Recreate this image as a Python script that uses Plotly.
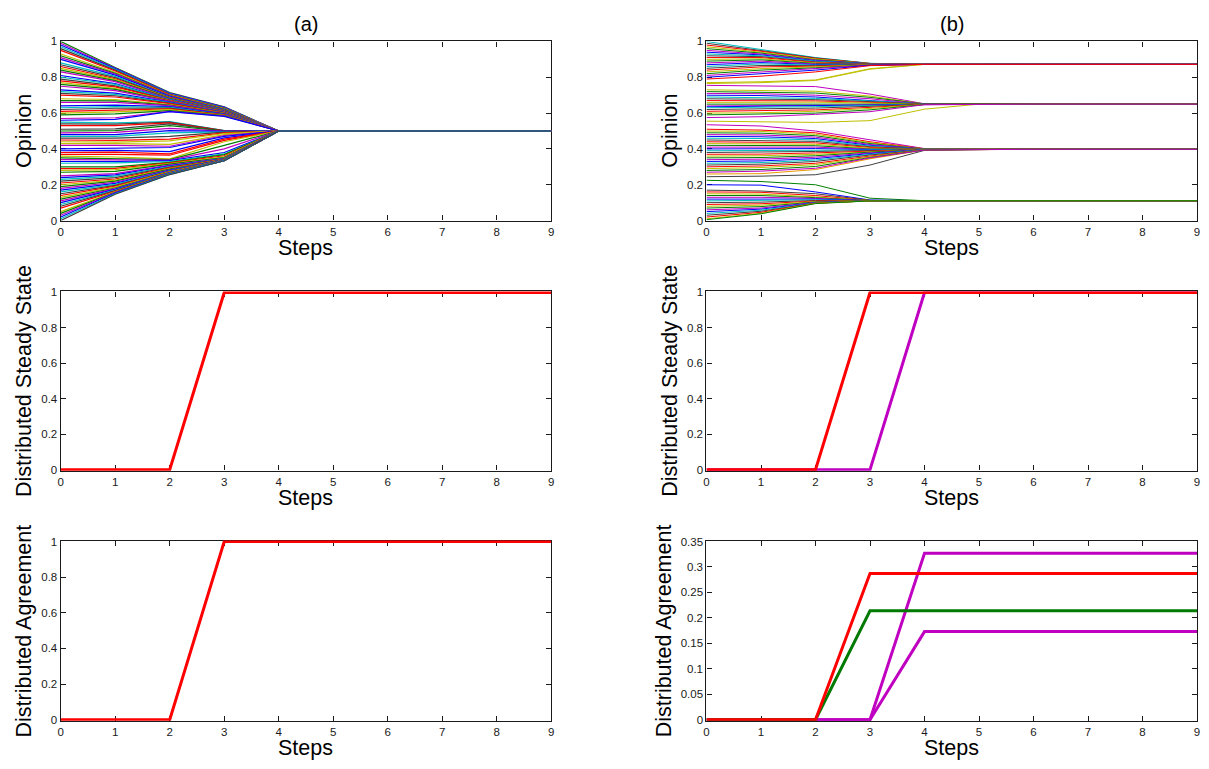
import plotly.graph_objects as go

W, H = 1209, 769
steps = list(range(10))

# MATLAB default line colour order
colors = ["#0000FF", "#008000", "#FF0000", "#00BFBF", "#BF00BF", "#BFBF00", "#404040"]
ORANGE = "#E89A00"

# ---------------- panel (a): opinions, step 0..3 then consensus ----------------
a_s0 = [1.00, 0.99, 0.98, 0.97, 0.96, 0.95, 0.93, 0.92, 0.91, 0.90, 0.88, 0.87, 0.86, 0.85, 0.84, 0.83,
        0.81, 0.80, 0.79, 0.78, 0.77, 0.76, 0.75, 0.73, 0.72, 0.71, 0.70, 0.68, 0.67, 0.66, 0.64, 0.63,
        0.62, 0.61, 0.60, 0.59, 0.57, 0.56,
        0.55, 0.54, 0.53, 0.51, 0.50, 0.49, 0.48, 0.47, 0.46, 0.45, 0.44, 0.43, 0.42, 0.40, 0.39, 0.38, 0.37,
        0.36, 0.35, 0.34, 0.33, 0.32, 0.30, 0.29, 0.28, 0.27, 0.25, 0.24, 0.23, 0.22, 0.21, 0.20, 0.19,
        0.18, 0.17, 0.16, 0.15, 0.14, 0.13, 0.12, 0.11, 0.10, 0.09, 0.08, 0.07, 0.05, 0.04, 0.03, 0.02,
        0.01, 0.00]
a_s1 = [0.855, 0.852, 0.848, 0.845, 0.840, 0.835, 0.828, 0.822, 0.818, 0.812, 0.805, 0.798, 0.792, 0.787,
        0.781, 0.776, 0.765, 0.760, 0.752, 0.746, 0.738, 0.732, 0.725, 0.712, 0.705, 0.697, 0.690, 0.676,
        0.668, 0.660, 0.644, 0.636, 0.627, 0.618, 0.607, 0.596, 0.574, 0.565,
        0.545, 0.538, 0.530, 0.512, 0.502, 0.492, 0.480, 0.470, 0.460, 0.448, 0.438, 0.430, 0.420, 0.402,
        0.392, 0.382, 0.370,
        0.355, 0.345, 0.338, 0.330, 0.322, 0.300, 0.292, 0.285, 0.275, 0.262, 0.255, 0.248, 0.240, 0.232,
        0.226, 0.220, 0.214, 0.208, 0.202, 0.197, 0.192, 0.187, 0.182, 0.178, 0.174, 0.170, 0.167, 0.164,
        0.160, 0.158, 0.156, 0.154, 0.150, 0.147]
a_s2 = [0.715, 0.712, 0.710, 0.708, 0.705, 0.703, 0.700, 0.698, 0.696, 0.694, 0.690, 0.688, 0.686, 0.684,
        0.682, 0.680, 0.677, 0.675, 0.673, 0.671, 0.669, 0.667, 0.665, 0.661, 0.659, 0.656, 0.653, 0.648,
        0.645, 0.642, 0.636, 0.632, 0.628, 0.624, 0.619, 0.614, 0.610, 0.608,
        0.553, 0.550, 0.545, 0.540, 0.530, 0.515, 0.502, 0.490, 0.470, 0.455, 0.445, 0.425, 0.415, 0.408,
        0.385, 0.372, 0.365,
        0.345, 0.340, 0.338, 0.335, 0.330, 0.325, 0.322, 0.318, 0.315, 0.310, 0.306, 0.302, 0.298, 0.294,
        0.290, 0.287, 0.284, 0.281, 0.278, 0.276, 0.274, 0.272, 0.270, 0.268, 0.266, 0.265, 0.264, 0.263,
        0.262, 0.261, 0.260, 0.259, 0.258, 0.257]
a_s3 = [0.635, 0.633, 0.632, 0.630, 0.628, 0.626, 0.624, 0.622, 0.620, 0.619, 0.617, 0.615, 0.614, 0.613,
        0.612, 0.611, 0.610, 0.609, 0.608, 0.607, 0.606, 0.605, 0.604, 0.603, 0.602, 0.601, 0.600, 0.598,
        0.597, 0.596, 0.594, 0.592, 0.591, 0.590, 0.588, 0.586, 0.584, 0.582,
        0.503, 0.502, 0.501, 0.500, 0.500, 0.499, 0.498, 0.497, 0.494, 0.490, 0.486, 0.480, 0.475, 0.470,
        0.462, 0.455, 0.448,
        0.440, 0.420, 0.400, 0.380, 0.372, 0.368, 0.362, 0.356, 0.352, 0.348, 0.346, 0.345, 0.344, 0.343,
        0.342, 0.341, 0.340, 0.340, 0.339, 0.339, 0.338, 0.338, 0.337, 0.337, 0.337, 0.336, 0.336, 0.336,
        0.335, 0.335, 0.335, 0.335, 0.335, 0.334]
a_consensus = 0.5

# ---------------- panel (b): opinions, step 0..4 then final clusters ----------------
b_s0 = [0.77, 0.765, 1.00, 0.99, 0.98, 0.97, 0.96, 0.95, 0.94, 0.93, 0.92, 0.91, 0.90, 0.89, 0.88, 0.87,
        0.86, 0.85, 0.84, 0.83, 0.82, 0.81, 0.80, 0.79,
        0.555, 0.755, 0.73, 0.72, 0.71, 0.70, 0.69, 0.68, 0.67, 0.66, 0.65, 0.64, 0.635, 0.63, 0.62, 0.61,
        0.60, 0.59, 0.575,
        0.26, 0.245, 0.535, 0.51, 0.50, 0.49, 0.48, 0.47, 0.46, 0.45, 0.44, 0.43, 0.42, 0.41, 0.40, 0.39,
        0.38, 0.37, 0.36, 0.35, 0.34, 0.33, 0.32, 0.31, 0.30, 0.29, 0.28, 0.27,
        0.225, 0.20, 0.17, 0.16, 0.15, 0.14, 0.13, 0.12, 0.11, 0.10, 0.09, 0.08, 0.07, 0.06, 0.05, 0.04,
        0.03, 0.02, 0.01, 0.005]
b_s1 = [0.775, 0.770, 0.955, 0.950, 0.945, 0.940, 0.935, 0.930, 0.925, 0.920, 0.915, 0.910, 0.903, 0.897,
        0.890, 0.882, 0.875, 0.866, 0.858, 0.848, 0.840, 0.830, 0.818, 0.806,
        0.552, 0.752, 0.728, 0.718, 0.708, 0.698, 0.688, 0.678, 0.668, 0.660, 0.650, 0.642, 0.637, 0.632,
        0.622, 0.612, 0.602, 0.594, 0.580,
        0.262, 0.248, 0.528, 0.505, 0.498, 0.488, 0.478, 0.468, 0.458, 0.448, 0.438, 0.428, 0.418, 0.409,
        0.400, 0.390, 0.381, 0.371, 0.362, 0.352, 0.343, 0.333, 0.324, 0.315, 0.305, 0.296, 0.285, 0.276,
        0.218, 0.198, 0.165, 0.158, 0.148, 0.140, 0.130, 0.122, 0.112, 0.103, 0.094, 0.086, 0.078, 0.070,
        0.064, 0.058, 0.052, 0.046, 0.041, 0.038]
b_s2 = [0.785, 0.782, 0.910, 0.908, 0.905, 0.902, 0.898, 0.895, 0.892, 0.890, 0.886, 0.883, 0.880, 0.877,
        0.874, 0.871, 0.868, 0.865, 0.862, 0.858, 0.853, 0.848, 0.840, 0.830,
        0.548, 0.748, 0.722, 0.712, 0.700, 0.690, 0.682, 0.675, 0.668, 0.661, 0.654, 0.646, 0.640, 0.636,
        0.628, 0.618, 0.610, 0.600, 0.593,
        0.285, 0.256, 0.500, 0.490, 0.482, 0.474, 0.466, 0.458, 0.450, 0.442, 0.434, 0.426, 0.418, 0.410,
        0.402, 0.394, 0.386, 0.378, 0.370, 0.362, 0.354, 0.346, 0.338, 0.330, 0.320, 0.312, 0.302, 0.292,
        0.200, 0.160, 0.150, 0.140, 0.132, 0.128, 0.124, 0.120, 0.116, 0.112, 0.109, 0.106, 0.104, 0.102,
        0.100, 0.099, 0.098, 0.097, 0.096, 0.095]
b_s3 = [0.848, 0.845, 0.878, 0.877, 0.877, 0.876, 0.876, 0.875, 0.875, 0.874, 0.874, 0.873, 0.873, 0.873,
        0.872, 0.872, 0.871, 0.871, 0.870, 0.870, 0.869, 0.868, 0.867, 0.865,
        0.558, 0.706, 0.695, 0.688, 0.680, 0.672, 0.668, 0.664, 0.660, 0.656, 0.652, 0.648, 0.645, 0.642,
        0.638, 0.632, 0.626, 0.618, 0.608,
        0.345, 0.310, 0.450, 0.440, 0.435, 0.430, 0.425, 0.420, 0.416, 0.412, 0.408, 0.404, 0.400, 0.398,
        0.396, 0.394, 0.391, 0.388, 0.385, 0.382, 0.378, 0.374, 0.370, 0.366, 0.360, 0.356, 0.352, 0.350,
        0.125, 0.115, 0.113, 0.112, 0.112, 0.112, 0.111, 0.111, 0.111, 0.111, 0.111, 0.111, 0.111, 0.110,
        0.110, 0.110, 0.110, 0.110, 0.110, 0.110]
b_s4 = [0.872] * 24 + \
       [0.622, 0.652, 0.651, 0.651, 0.651, 0.650, 0.650, 0.650, 0.650, 0.650, 0.650, 0.650, 0.650, 0.649,
        0.649, 0.649, 0.648, 0.648, 0.647] + \
       [0.394, 0.392, 0.402, 0.401, 0.400, 0.400, 0.400, 0.399, 0.399, 0.399, 0.399, 0.398, 0.398, 0.398,
        0.398, 0.398, 0.397, 0.397, 0.397, 0.397, 0.396, 0.396, 0.396, 0.395, 0.395, 0.395, 0.395, 0.394] + \
       [0.111] * 20
b_final = [0.872] * 24 + [0.650] * 19 + [0.398] * 28 + [0.111] * 20

# ---------------- distributed steady state / agreement ----------------
dss_a = [0, 0, 0, 1, 1, 1, 1, 1, 1, 1]
dss_b_red = [0, 0, 0, 1, 1, 1, 1, 1, 1, 1]
dss_b_magenta = [0, 0, 0, 0, 1, 1, 1, 1, 1, 1]
da_a = [0, 0, 0, 1, 1, 1, 1, 1, 1, 1]
da_b_red = [0, 0, 0, 0.287, 0.287, 0.287, 0.287, 0.287, 0.287, 0.287]
da_b_green = [0, 0, 0, 0.214, 0.214, 0.214, 0.214, 0.214, 0.214, 0.214]
da_b_magenta1 = [0, 0, 0, 0, 0.327, 0.327, 0.327, 0.327, 0.327, 0.327]
da_b_magenta2 = [0, 0, 0, 0, 0.173, 0.173, 0.173, 0.173, 0.173, 0.173]

# line colour styling (MATLAB colour cycling, a few highlighted agents)
a_colors = [colors[(i * 3 + 1) % 7] for i in range(len(a_s0))]
for idx, ci in {37: 0, 41: 6, 49: 5, 52: 0, 53: 2, 60: 1, len(a_s0) - 1: 6}.items():
    a_colors[idx] = colors[ci]
b_colors = [colors[(i * 3 + 4) % 7] for i in range(len(b_s0))]
for idx, col in {0: colors[5], 1: colors[5], 23: colors[2], 24: colors[5], 25: colors[4], 42: colors[4],
                 43: ORANGE, 44: colors[6], 45: colors[4], 70: colors[4], 71: colors[1], 72: colors[0],
                 90: colors[1]}.items():
    b_colors[idx] = col

fig = go.Figure()


def add_line(y, axis_n, color, width):
    suffix = "" if axis_n == 1 else str(axis_n)
    fig.add_trace(go.Scatter(x=steps, y=y, mode="lines", xaxis="x" + suffix, yaxis="y" + suffix,
                             line=dict(color=color, width=width), showlegend=False, hoverinfo="skip"))


for i in range(len(a_s0)):
    y = [a_s0[i], a_s1[i], a_s2[i], a_s3[i]] + [a_consensus] * 6
    add_line(y, 1, a_colors[i], 1.2)

for i in range(len(b_s0)):
    y = [b_s0[i], b_s1[i], b_s2[i], b_s3[i], b_s4[i]] + [b_final[i]] * 5
    add_line(y, 2, b_colors[i], 1.0)

add_line(dss_a, 3, "#FF0000", 3)
add_line(dss_b_magenta, 4, "#C000C0", 3)
add_line(dss_b_red, 4, "#FF0000", 3)
add_line(da_a, 5, "#FF0000", 3)
add_line(da_b_magenta1, 6, "#C000C0", 3)
add_line(da_b_magenta2, 6, "#C000C0", 3)
add_line(da_b_green, 6, "#007A00", 3)
add_line(da_b_red, 6, "#FF0000", 3)

cols = [(58, 551), (707, 1200)]
rows = [(36, 218), (290, 472), (543, 726)]
font = "Liberation Sans, Arial, Helvetica, sans-serif"
ink = "#1a1a1a"

yranges = {1: [0, 1], 2: [0, 1], 3: [-0.0055, 1.0055], 4: [-0.0055, 1.0055], 5: [-0.0055, 1.0055],
           6: [-0.0019, 0.3519]}
ydticks = {1: 0.2, 2: 0.2, 3: 0.2, 4: 0.2, 5: 0.2, 6: 0.05}
ytitles = {1: "Opinion", 2: "Opinion", 3: "Distributed Steady State", 4: "Distributed Steady State",
           5: "Distributed Agreement", 6: "Distributed Agreement"}

annotations = []
n = 0
for r, (top, bot) in enumerate(rows):
    for c, (left, right) in enumerate(cols):
        n += 1
        suffix = "" if n == 1 else str(n)
        common = dict(showgrid=False, zeroline=False, showline=True, linecolor=ink, linewidth=1.3,
                      mirror="allticks", ticks="inside", ticklen=5, tickwidth=1, tickcolor=ink,
                      tickfont=dict(family=font, size=11.5, color=ink), layer="below traces")
        fig.layout["xaxis" + suffix] = dict(domain=[left / W, right / W], anchor="y" + suffix,
                                            range=[0, 9], tickmode="linear", tick0=0, dtick=1, **common)
        fig.layout["yaxis" + suffix] = dict(domain=[1 - bot / H, 1 - top / H], anchor="x" + suffix,
                                            range=yranges[n], tickmode="linear", tick0=0,
                                            dtick=ydticks[n], **common)
        annotations.append(dict(text="Steps", xref="paper", yref="paper", x=(left + right) / 2 / W,
                                y=1 - (bot + 28) / H, xanchor="center", yanchor="middle", showarrow=False,
                                font=dict(family=font, size=21.5, color="#000")))
        ytx = left - 37 if n != 6 else left - 43
        annotations.append(dict(text=ytitles[n], xref="paper", yref="paper", x=ytx / W,
                                y=1 - (top + bot) / 2 / H, xanchor="center", yanchor="middle",
                                textangle=-90, showarrow=False,
                                font=dict(family=font, size=21.5, color="#000")))

for label, (left, right) in zip(["(a)", "(b)"], cols):
    annotations.append(dict(text=label, xref="paper", yref="paper", x=(left + right) / 2 / W, y=1 - 18 / H,
                            xanchor="center", yanchor="middle", showarrow=False,
                            font=dict(family=font, size=20, color="#000")))

fig.update_layout(width=W, height=H, margin=dict(l=0, r=0, t=0, b=0), paper_bgcolor="white",
                  plot_bgcolor="white", annotations=annotations, showlegend=False)

fig.write_html("out.html")
